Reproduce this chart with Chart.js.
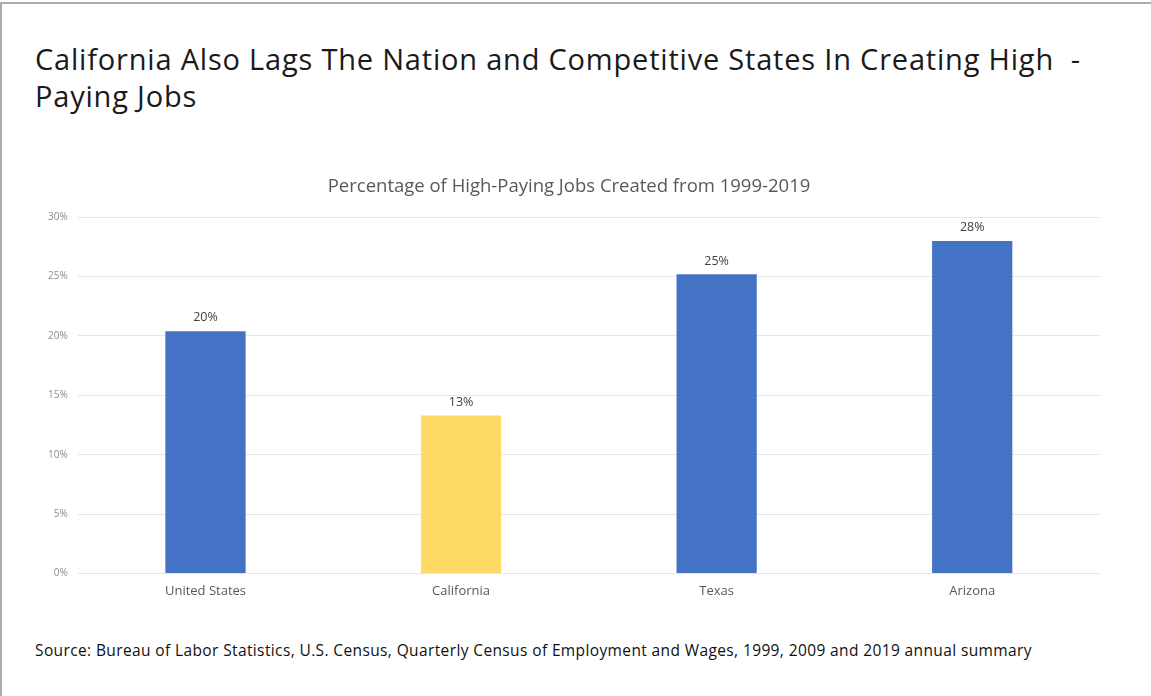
<!DOCTYPE html>
<html>
<head>
<meta charset="utf-8">
<script src="https://cdn.jsdelivr.net/npm/chart.js@4/dist/chart.umd.min.js"></script>
<style>
  html, body { margin: 0; padding: 0; background: #fff; }
  body { width: 1151px; height: 696px; position: relative; overflow: hidden; }
  #frame { position: absolute; left: 0; top: 2px; width: 1151px; height: 694px;
           border-left: 2px solid #ababab; border-top: 2px solid #ababab; box-sizing: border-box; }
  #title { position: absolute; left: 35px; top: 40px; width: 1110px; white-space: nowrap;
           font-family: "Open Sans", sans-serif; font-size: 29px; line-height: 37px;
           letter-spacing: 0.8px; color: #1a1a1a; }
  #source { position: absolute; left: 35px; top: 639px; white-space: nowrap;
            font-family: "Open Sans", sans-serif; font-size: 15.5px; letter-spacing: 0.38px; color: #111; }
  #wrap { position: absolute; left: 0; top: 165px; width: 1100px; height: 454px; }
</style>
</head>
<body>
<div id="frame"></div>
<div id="title">California Also Lags The Nation and Competitive States In Creating High&nbsp; -<br>Paying Jobs</div>
<div id="wrap"><canvas id="c"></canvas></div>
<div id="source">Source: Bureau of Labor Statistics, U.S. Census, Quarterly Census of Employment and Wages, 1999, 2009 and 2019 annual summary</div>
<script>
const categories = ["United States", "California", "Texas", "Arizona"];
const values = [20.4, 13.3, 25.2, 28.0];
const valueLabels = ["20%", "13%", "25%", "28%"];
const barColors = ["#4472C4", "#FFD966", "#4472C4", "#4472C4"];
const yTicks = [0, 5, 10, 15, 20, 25, 30];
const chartTitle = "Percentage of High-Paying Jobs Created from 1999-2019";

const labelPlugin = {
  id: "valueLabels",
  afterDatasetsDraw(chart) {
    const ctx = chart.ctx;
    const meta = chart.getDatasetMeta(0);
    ctx.save();
    ctx.font = "12.5px 'Open Sans', sans-serif";
    ctx.fillStyle = "#404040";
    ctx.textAlign = "center";
    ctx.textBaseline = "bottom";
    meta.data.forEach((bar, i) => {
      ctx.fillText(valueLabels[i], bar.x, bar.y - 7);
    });
    ctx.restore();
  }
};

new Chart(document.getElementById("c"), {
  type: "bar",
  data: {
    labels: categories,
    datasets: [{
      data: values,
      backgroundColor: barColors,
      categoryPercentage: 1.0,
      barPercentage: 0.314
    }]
  },
  options: {
    responsive: true,
    maintainAspectRatio: false,
    animation: false,
    layout: { padding: { left: 38, right: 0, top: 0, bottom: 10 } },
    plugins: {
      legend: { display: false },
      tooltip: { enabled: false },
      title: {
        display: true,
        text: chartTitle,
        color: "#595959",
        font: { family: "'Open Sans', sans-serif", size: 18.5, weight: "normal" },
        padding: { top: 11, bottom: 19 }
      }
    },
    scales: {
      y: {
        min: 0, max: 30,
        afterBuildTicks(axis) { axis.ticks = yTicks.map(v => ({ value: v })); },
        ticks: {
          callback: v => v + "%",
          color: "#8c8c8c",
          font: { family: "'Open Sans', sans-serif", size: 10 },
          padding: 10
        },
        grid: { color: "#e6e6e6", drawTicks: false },
        border: { display: false }
      },
      x: {
        ticks: {
          color: "#595959",
          font: { family: "'Open Sans', sans-serif", size: 13 },
          padding: 10
        },
        grid: { display: false, drawTicks: false },
        border: { display: false }
      }
    }
  },
  plugins: [labelPlugin]
});
</script>
</body>
</html>
